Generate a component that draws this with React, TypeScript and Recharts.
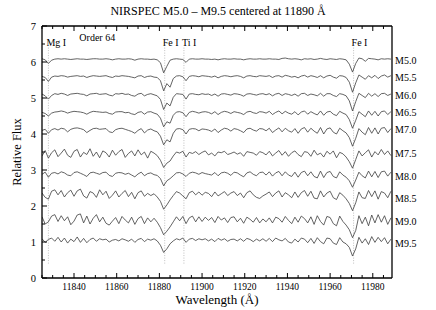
import React from 'react';
import { LineChart, Line, XAxis, YAxis, ReferenceLine, ReferenceDot } from 'recharts';

const wavelengths = [
  11825, 11826.5, 11828, 11829.5, 11831, 11832.5, 11834, 11835.5, 11837, 11838.5,
  11840, 11841.5, 11843, 11844.5, 11846, 11847.5, 11849, 11850.5, 11852, 11853.5,
  11855, 11856.5, 11858, 11859.5, 11861, 11862.5, 11864, 11865.5, 11867, 11868.5,
  11870, 11871.5, 11873, 11874.5, 11876, 11877.5, 11879, 11880.5, 11882, 11883.5,
  11885, 11886.5, 11888, 11889.5, 11891, 11892.5, 11894, 11895.5, 11897, 11898.5,
  11900, 11901.5, 11903, 11904.5, 11906, 11907.5, 11909, 11910.5, 11912, 11913.5,
  11915, 11916.5, 11918, 11919.5, 11921, 11922.5, 11924, 11925.5, 11927, 11928.5,
  11930, 11931.5, 11933, 11934.5, 11936, 11937.5, 11939, 11940.5, 11942, 11943.5,
  11945, 11946.5, 11948, 11949.5, 11951, 11952.5, 11954, 11955.5, 11957, 11958.5,
  11960, 11961.5, 11963, 11964.5, 11966, 11967.5, 11969, 11970.5, 11972, 11973.5,
  11975, 11976.5, 11978, 11979.5, 11981, 11982.5, 11984, 11985.5, 11987, 11988.5,
];

const spectralTypes = ['M5.0', 'M5.5', 'M6.0', 'M6.5', 'M7.0', 'M7.5', 'M8.0', 'M8.5', 'M9.0', 'M9.5'];
const offsets = [6.08, 5.6, 5.1, 4.6, 4.12, 3.45, 2.9, 2.33, 1.62, 1.05];
const labelLevels = [6.05, 5.57, 5.08, 4.6, 4.12, 3.47, 2.83, 2.22, 1.56, 0.97];

// flux deviations from each spectrum's offset, in hundredths
const fluxM50 = [
  1, -2, -12, -3, 0, 1, 0, 1, 0, -1,
  0, 1, 0, 0, -1, 0, 1, 1, 0, 0,
  1, 0, -2, 0, 1, 0, 0, 1, 0, -3,
  0, 1, 0, 0, -1, 0, -2, -10, -38, -20,
  -3, 0, 1, 0, -1, -9, 0, 1, 0, 0,
  1, 0, 0, -1, 0, -2, 0, 1, 0, 0,
  1, 0, 0, -2, 0, 1, 0, 0, 1, 0,
  0, 1, 0, 0, -1, 2, 3, 1, 0, 1,
  0, -2, 1, 0, 1, -1, 0, 2, 0, -1,
  1, 0, -1, 1, 0, -2, -14, -36, -12, 3,
  1, -6, 2, 1, 0, -2, 1, 0, 1, 0,
];
const fluxM55 = [
  0, -3, -14, -2, 1, 0, 2, 1, -2, 0,
  1, 2, 0, 1, -3, 0, 2, 1, 0, 1,
  2, -1, -3, 1, 0, 2, 1, 0, -2, -4,
  1, 2, -3, 0, 1, -2, -3, -12, -40, -20,
  -30, -6, 1, 2, -1, -12, 0, 2, 1, -1,
  2, 1, 0, -2, 1, -4, 0, 2, 1, -1,
  1, 2, 0, -4, 1, 2, 0, -1, 2, 1,
  0, 2, -3, 1, 2, -2, 3, 1, -2, 0,
  -4, 1, 3, -2, 2, 0, -3, 2, -4, 1,
  3, -2, -5, 2, 1, -3, -16, -44, -18, 4,
  -2, -8, 2, -4, 3, -6, 1, 4, -2, 2,
];
const fluxM60 = [
  1, -4, -13, -3, 2, 0, 3, 1, -3, 1,
  2, 3, 1, 0, -4, 1, 2, 3, 0, 1,
  2, -2, -4, 2, 1, 3, 0, 1, -3, -5,
  1, 3, -4, 0, 2, -1, -4, -14, -42, -24,
  -32, -8, 2, 1, 0, -13, 1, 2, 0, -1,
  2, 0, 1, -3, 1, -5, 1, 2, 0, -2,
  2, 1, -1, -5, 1, 2, 0, -2, 1, 2,
  -1, 2, -4, 1, 3, -3, 2, 0, -3, 1,
  -5, 2, 3, -3, 1, -1, -4, 3, -5, 2,
  2, -3, -6, 2, 0, -4, -18, -46, -20, 3,
  -3, -9, 3, -5, 2, -6, 2, 3, -3, 1,
];
const fluxM65 = [
  0, -3, -10, -2, 1, 2, 4, 2, -2, 1,
  3, 2, 1, -1, -5, 0, 3, 2, 1, 0,
  1, -3, -5, 1, 2, 2, -1, 0, -4, -6,
  0, 2, -5, 1, 2, -2, -5, -16, -40, -26,
  -30, -8, 1, 2, -1, -12, 0, 3, 1, -2,
  1, 2, 0, -4, 2, -6, 0, 3, 1, -3,
  2, 0, -2, -6, 1, 3, -1, -3, 2, 1,
  -2, 3, -6, 0, 4, -4, 3, -2, -5, 2,
  -7, 1, 4, -5, 2, -3, -7, 4, -8, 1,
  3, -5, -9, 3, -2, -6, -20, -44, -22, 2,
  -5, -12, 4, -8, 3, -10, 2, 4, -6, 2,
];
const fluxM70 = [
  -2, 1, -10, 0, 3, -1, 4, 2, -6, 1,
  4, 5, 3, 0, -8, -2, 3, 4, 1, 2,
  3, -6, -8, 0, 3, 4, 1, -2, -5, -10,
  -2, 3, -9, -1, 2, -3, -6, -18, -42, -28,
  -34, -10, 2, 3, 0, -12, 1, 3, 2, -3,
  2, 1, -1, -5, 2, -8, -1, 4, 2, -4,
  3, 1, -3, -8, 2, 4, -1, -4, 3, 2,
  -3, 4, -8, -1, 5, -6, 4, -3, -7, 3,
  -10, 2, 6, -7, 4, -4, -10, 6, -12, 2,
  5, -7, -12, 4, -3, -9, -22, -46, -24, 3,
  -7, -14, 6, -10, 5, -12, 4, 6, -8, 3,
];
const fluxM75 = [
  -6, 9, -12, 3, 11, -8, 2, 13, -4, -10,
  7, 12, -9, 4, -2, 14, -7, 5, -11, 8,
  3, -9, 10, -4, 6, 12, -10, 1, 8, -6,
  11, -3, 5, -12, 7, 2, -5, -18, -38, -26,
  -20, -6, 5, 2, 7, -9, 4, 1, 6, -2,
  4, 8, -3, 2, -6, 5, 3, 7, -2, 1,
  5, -1, 3, -7, 6, 4, 2, -4, 6, 3,
  -3, 7, -6, 2, 9, -4, 6, -7, 3, 8,
  -2, -8, 6, 4, -7, 10, -3, 2, -9, 7,
  -1, 8, -11, 4, 0, -9, -22, -40, -16, 8,
  -6, 3, 11, -9, 6, -3, 12, -2, 8, -5,
];
const fluxM80 = [
  -2, 4, -10, 1, 3, -1, 5, 2, -4, -6,
  3, 5, 1, -3, -8, 2, 4, 1, -2, 3,
  4, -5, -8, 1, 3, 2, -2, 1, -4, -9,
  -1, 4, -6, 0, 2, -3, -5, -14, -34, -20,
  -14, -6, 2, 3, -1, -8, 1, 4, 2, -2,
  3, 0, -2, -4, 3, -6, 2, 4, 1, -5,
  4, 2, -4, -9, 2, 5, -2, -6, 3, 4,
  -4, 5, -7, 2, 6, -6, 5, -4, -8, 4,
  -10, 3, 7, -6, 5, -8, -12, 7, -11, 3,
  6, -8, -12, 5, -4, -10, -20, -38, -18, 4,
  -6, -12, 7, -9, 6, -11, 5, 7, -7, 4,
];
const fluxM85 = [
  3, -9, -14, 8, 12, -2, 10, -8, 4, 11,
  -6, 9, 14, -5, -11, 7, 3, -9, 12, -2,
  8, -12, -3, 9, -8, 2, 10, -7, 5, -13,
  4, 9, -6, 2, -4, 1, -8, -20, -42, -30,
  -16, -4, 7, 3, -5, -13, 4, 8, -2, 6,
  -3, 5, 2, -7, 6, -5, 1, 7, -4, 3,
  7, -4, 3, -10, 4, 9, -2, -9, -12, -5,
  0, 6, -7, 3, 9, -8, 4, -2, -10, 6,
  -9, 4, 10, -6, 8, -11, -13, 9, -8, 3,
  8, -10, -15, 4, -3, -13, -26, -46, -24, 6,
  -10, -12, 10, -7, 9, -14, 7, 3, -10, 8,
];
const fluxM90 = [
  8, -12, -6, 10, 14, -5, 11, -3, 8, -14,
  -4, 13, 16, -9, 10, -12, 4, 14, -6, 7,
  -10, -15, -4, 6, -11, 9, -1, -9, 7, -13,
  3, 9, -11, 5, -6, 4, -7, -22, -42, -32,
  -20, -6, 8, -3, 9, -11, 5, 10, -6, 8,
  -5, 7, -2, 6, -8, 9, -1, 5, -8, 6,
  8, -6, 4, -10, 7, 1, -7, 6, -9, 2,
  -6, 5, -9, 7, 3, -7, 9, -2, -11, 7,
  -7, 10, 3, -9, 8, -13, 11, -5, -15, 9,
  6, -11, -17, 10, -5, -15, -28, -50, -30, 11,
  -11, 7, -17, 13, -9, 14, -7, 11, -13, 5,
];
const fluxM95 = [
  4, -6, 2, 6, -3, 8, -5, 6, -8, 3,
  -4, 9, -6, 5, -7, 2, 6, -3, 4, 1,
  3, -5, 0, 2, -2, 4, 1, -3, 3, -6,
  2, 5, -4, 3, 0, 4, -2, -14, -34, -24,
  -10, -2, 4, 1, 6, -6, 3, 5, -1, 4,
  1, 4, -2, 3, -4, 5, 0, 4, -3, 2,
  3, -2, 4, -3, 5, 2, -4, 3, -2, 4,
  -3, 5, -4, 6, 1, -2, 5, -5, -8, 3,
  -5, 6, 3, -7, 5, -9, 7, -4, -10, 6,
  4, -8, -12, 7, -5, -10, -20, -44, -24, 8,
  -8, 4, -12, 10, -6, 8, -4, 7, -10, 3,
];

const fluxes = [fluxM50, fluxM55, fluxM60, fluxM65, fluxM70, fluxM75, fluxM80, fluxM85, fluxM90, fluxM95];

const lineIds = [
  { name: 'Mg I', w: 11828 },
  { name: 'Fe I', w: 11882.5 },
  { name: 'Ti I', w: 11891.5 },
  { name: 'Fe I', w: 11971 },
];
const lineLabelLevel = 6.53;
const lineTop = 6.4;
const lineBottom = 0.4;

const xMajor = [11840, 11860, 11880, 11900, 11920, 11940, 11960, 11980];
const xTicks = [
  11825, 11830, 11835, 11840, 11845, 11850, 11855, 11860, 11865, 11870, 11875, 11880,
  11885, 11890, 11895, 11900, 11905, 11910, 11915, 11920, 11925, 11930, 11935, 11940,
  11945, 11950, 11955, 11960, 11965, 11970, 11975, 11980, 11985,
];
const yMajor = [0, 1, 2, 3, 4, 5, 6, 7];
const yTicks = [0, 0.5, 1, 1.5, 2, 2.5, 3, 3.5, 4, 4.5, 5, 5.5, 6, 6.5, 7];

const data = wavelengths.map((w, i) => {
  const row: Record<string, number> = { w };
  fluxes.forEach((f, k) => {
    row['s' + k] = offsets[k] + f[i] / 100;
  });
  return row;
});

const FONT = '"Liberation Serif", "Times New Roman", serif';

const BottomTick = (p: any) => {
  const { x, y, payload } = p;
  const major = xMajor.includes(payload.value);
  return (
    <g>
      <line x1={x} x2={x} y1={y} y2={y - (major ? 5 : 3)} stroke="#000" strokeWidth={1} />
      {major && (
        <text x={x} y={y + 12} textAnchor="middle" fontSize={9.5} fill="#000" fontFamily={FONT}>
          {payload.value}
        </text>
      )}
    </g>
  );
};
const TopTick = (p: any) => {
  const { x, y, payload } = p;
  const major = xMajor.includes(payload.value);
  return <line x1={x} x2={x} y1={y} y2={y + (major ? 5 : 3)} stroke="#000" strokeWidth={1} />;
};
const LeftTick = (p: any) => {
  const { x, y, payload } = p;
  const major = yMajor.includes(payload.value);
  return (
    <g>
      <line x1={x} x2={x + (major ? 5 : 3)} y1={y} y2={y} stroke="#000" strokeWidth={1} />
      {major && (
        <text x={x - 6} y={y + 3.5} textAnchor="end" fontSize={10.5} fill="#000" fontFamily={FONT}>
          {payload.value}
        </text>
      )}
    </g>
  );
};
const RightTick = (p: any) => {
  const { x, y, payload } = p;
  const major = yMajor.includes(payload.value);
  return <line x1={x} x2={x - (major ? 5 : 3)} y1={y} y2={y} stroke="#000" strokeWidth={1} />;
};

export default function App() {
  return (
    <div style={{ position: 'absolute', left: 0, top: 0, width: 436, height: 310, background: '#fff', fontFamily: FONT }}>
      <div style={{ position: 'absolute', left: 0, width: 436, top: 4, textAlign: 'center', fontSize: 12, lineHeight: '14px', color: '#000' }}>
        NIRSPEC M5.0 – M9.5 centered at 11890 Å
      </div>
      <div style={{ position: 'absolute', left: 42, width: 350, top: 292, textAlign: 'center', fontSize: 13, lineHeight: '15px', color: '#000' }}>
        Wavelength (Å)
      </div>
      <div
        style={{
          position: 'absolute', left: 17, top: 152, width: 120, marginLeft: -60, marginTop: -7,
          textAlign: 'center', fontSize: 12.5, lineHeight: '14px', color: '#000', transform: 'rotate(-90deg)',
        }}
      >
        Relative Flux
      </div>
      <LineChart width={436} height={310} data={data} margin={{ top: 25, right: 43, bottom: 31, left: 41 }}>
        <XAxis
          dataKey="w" type="number" domain={[11825, 11989]} allowDataOverflow ticks={xTicks} interval={0}
          height={1} tickSize={0} tickMargin={0} tick={<BottomTick />} tickLine={false}
          axisLine={{ stroke: '#000', strokeWidth: 1.3 }}
        />
        <XAxis
          xAxisId="top" orientation="top" dataKey="w" type="number" domain={[11825, 11989]} allowDataOverflow ticks={xTicks} interval={0}
          height={1} tickSize={0} tickMargin={0} tick={<TopTick />} tickLine={false}
          axisLine={{ stroke: '#000', strokeWidth: 1.3 }}
        />
        <YAxis
          type="number" domain={[0, 7]} ticks={yTicks} interval={0} width={1} tickSize={0} tickMargin={0}
          tick={<LeftTick />} tickLine={false} axisLine={{ stroke: '#000', strokeWidth: 1.3 }}
        />
        <YAxis
          yAxisId="right" orientation="right" type="number" domain={[0, 7]} ticks={yTicks} interval={0} width={1}
          tickSize={0} tickMargin={0} tick={<RightTick />} tickLine={false} axisLine={{ stroke: '#000', strokeWidth: 1.3 }}
        />
        {lineIds.map((l, i) => (
          <ReferenceLine
            key={'rl' + i}
            segment={[{ x: l.w, y: lineBottom }, { x: l.w, y: lineTop }]}
            stroke="#b0b0b0" strokeWidth={0.8} strokeDasharray="1 1.5"
          />
        ))}
        {spectralTypes.map((s, k) => (
          <Line
            key={s} dataKey={'s' + k} type="linear" stroke="#3c3c3c" strokeWidth={0.8}
            dot={false} isAnimationActive={false}
          />
        ))}
        {lineIds.map((l, i) => (
          <ReferenceDot
            key={'lab' + i} x={l.w} y={lineLabelLevel} r={0} fill="none" stroke="none"
            label={{ value: l.name, position: 'right', offset: -2, fontSize: 10, fill: '#000', fontFamily: FONT }}
          />
        ))}
        <ReferenceDot
          x={11842.5} y={6.69} r={0} fill="none" stroke="none"
          label={{ value: 'Order 64', position: 'right', offset: 0, fontSize: 10, fill: '#000', fontFamily: FONT }}
        />
        {spectralTypes.map((s, k) => (
          <ReferenceDot
            key={'sl' + s} x={11989} y={labelLevels[k]} r={0} fill="none" stroke="none"
            label={{ value: s, position: 'right', offset: 3, fontSize: 10, fill: '#000', fontFamily: FONT }}
          />
        ))}
      </LineChart>
    </div>
  );
}
